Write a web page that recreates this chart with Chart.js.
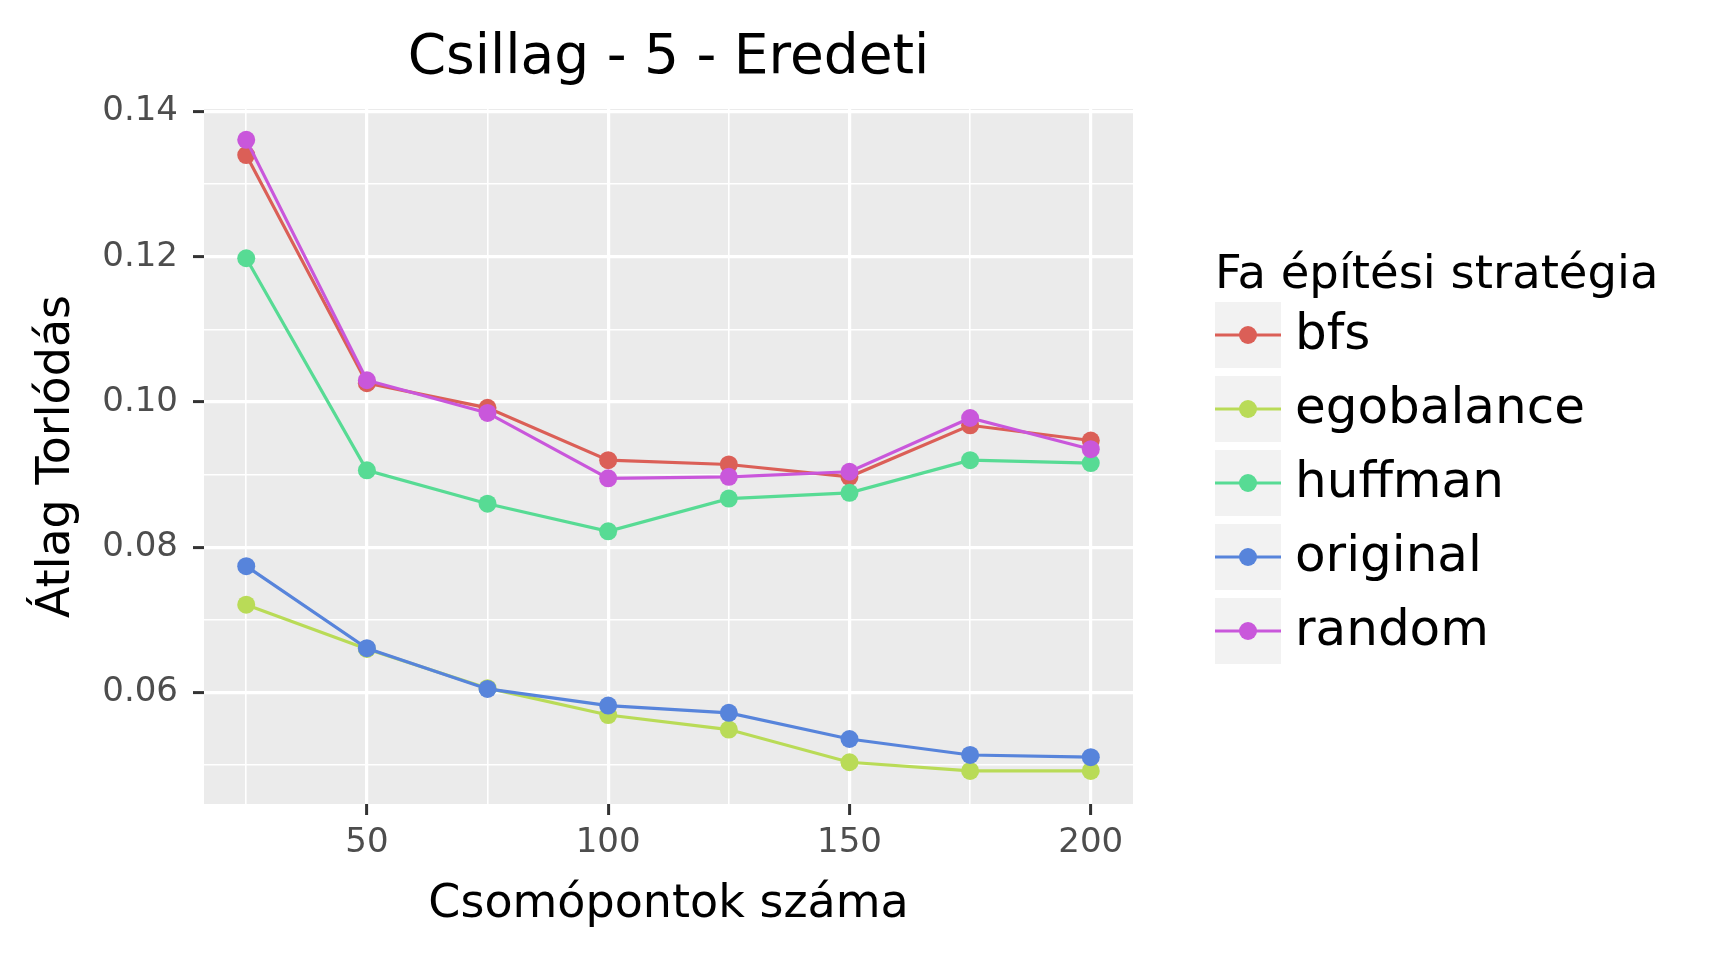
<!DOCTYPE html>
<html>
<head>
<meta charset="utf-8">
<script src="https://cdn.jsdelivr.net/npm/chart.js@4.4.1/dist/chart.umd.min.js"></script>
<style>
    body { margin: 0; background: #ffffff; }
    #mychart { display: block; }
</style>
</head>
<body>
<canvas id="mychart" width="1736" height="954"></canvas>
<script>
// data
const nodes = [25, 50, 75, 100, 125, 150, 175, 200];
const seriesNames = ['bfs', 'egobalance', 'huffman', 'original', 'random'];
const bfs = [0.1340, 0.1026, 0.0992, 0.0920, 0.0914, 0.0897, 0.0968, 0.0947];
const egobalance = [0.0721, 0.0660, 0.0606, 0.0569, 0.0549, 0.0504, 0.0492, 0.0492];
const huffman = [0.1198, 0.0906, 0.0860, 0.0822, 0.0867, 0.0875, 0.0920, 0.0916];
const original = [0.0774, 0.0661, 0.0605, 0.0582, 0.0572, 0.0536, 0.0514, 0.0511];
const random = [0.1361, 0.1030, 0.0985, 0.0895, 0.0897, 0.0904, 0.0978, 0.0935];
const seriesColors = ['#db5f57', '#b9db57', '#57db94', '#5784db', '#c957db'];

const xTicks = [25, 50, 75, 100, 125, 150, 175, 200];
const xMajor = [50, 100, 150, 200];
const yTicks = [0.05, 0.06, 0.07, 0.08, 0.09, 0.10, 0.11, 0.12, 0.13, 0.14];
const yMajor = [0.06, 0.08, 0.10, 0.12, 0.14];

Chart.defaults.font.family = "'DejaVu Sans', sans-serif";

function isMajor(list, v) {
    return list.some(function (m) { return Math.abs(m - v) < 1e-9; });
}

// grey panel behind the grid
const panelBg = {
    id: 'panelBg',
    beforeDraw(chart) {
        const a = chart.chartArea;
        const c = chart.ctx;
        c.save();
        c.fillStyle = '#ebebeb';
        c.fillRect(a.left, a.top, a.right - a.left, a.bottom - a.top);
        c.restore();
    }
};

// ggplot style legend with grey key boxes
const sideLegend = {
    id: 'sideLegend',
    afterDraw(chart) {
        const c = chart.ctx;
        const left = 1215;
        const boxSize = 66;
        const firstTop = 302;
        const step = 74;
        c.save();
        c.fillStyle = '#000000';
        c.font = "46.5px 'DejaVu Sans'";
        c.textAlign = 'left';
        c.textBaseline = 'alphabetic';
        c.fillText('Fa építési stratégia', left, 288);
        for (let i in seriesNames) {
            let top = firstTop + i * step;
            let cy = top + boxSize / 2;
            c.fillStyle = '#f2f2f2';
            c.fillRect(left, top, boxSize, boxSize);
            c.strokeStyle = seriesColors[i];
            c.lineWidth = 3.2;
            c.beginPath();
            c.moveTo(left, cy);
            c.lineTo(left + boxSize, cy);
            c.stroke();
            c.fillStyle = seriesColors[i];
            c.beginPath();
            c.arc(left + boxSize / 2, cy, 9, 0, Math.PI * 2);
            c.fill();
            c.fillStyle = '#000000';
            c.font = "50px 'DejaVu Sans'";
            c.fillText(seriesNames[i], 1295, cy + 14);
        }
        c.restore();
    }
};

function makeSet(i, values) {
    return {
        label: seriesNames[i],
        data: nodes.map(function (x, k) { return { x: x, y: values[k] }; }),
        borderColor: seriesColors[i],
        backgroundColor: seriesColors[i],
        pointBackgroundColor: seriesColors[i],
        pointBorderWidth: 0,
        pointRadius: 9,
        pointHoverRadius: 9,
        borderWidth: 3.2,
        tension: 0,
        order: seriesNames.length - i
    };
}

let chartdata = {
    datasets: [
        makeSet(0, bfs),
        makeSet(1, egobalance),
        makeSet(2, huffman),
        makeSet(3, original),
        makeSet(4, random)
    ]
};

let ctx = document.getElementById('mychart');
let lineChart = new Chart(ctx, {
    type: 'line',
    data: chartdata,
    plugins: [panelBg, sideLegend],
    options: {
        responsive: false,
        animation: false,
        devicePixelRatio: 1,
        layout: {
            padding: { left: 0, right: 603, top: 0, bottom: 0 }
        },
        plugins: {
            legend: { display: false },
            tooltip: { enabled: false },
            title: {
                display: true,
                text: 'Csillag - 5 - Eredeti',
                color: '#000000',
                fullSize: false,
                font: { size: 55, weight: 'normal' },
                padding: { top: 26, bottom: 17 }
            }
        },
        scales: {
            x: {
                type: 'linear',
                min: 16.25,
                max: 208.75,
                afterBuildTicks: function (scale) {
                    scale.ticks = xTicks.map(function (v) { return { value: v }; });
                },
                afterFit: function (scale) {
                    scale.height = 150;
                },
                border: { display: false },
                grid: {
                    color: '#ffffff',
                    lineWidth: function (c) { return isMajor(xMajor, c.tick.value) ? 3.2 : 1.6; },
                    drawTicks: true,
                    tickLength: 11,
                    tickWidth: 3,
                    tickColor: function (c) { return isMajor(xMajor, c.tick.value) ? '#333333' : 'rgba(0,0,0,0)'; }
                },
                ticks: {
                    autoSkip: false,
                    maxRotation: 0,
                    padding: 8,
                    color: '#4d4d4d',
                    font: { size: 34 },
                    callback: function (value) {
                        return isMajor(xMajor, value) ? String(value) : '';
                    }
                },
                title: {
                    display: true,
                    text: 'Csomópontok száma',
                    color: '#000000',
                    font: { size: 46 },
                    padding: { top: 0, bottom: 21 }
                }
            },
            y: {
                type: 'linear',
                min: 0.04465,
                max: 0.14035,
                afterBuildTicks: function (scale) {
                    scale.ticks = yTicks.map(function (v) { return { value: v }; });
                },
                afterFit: function (scale) {
                    scale.width = 204;
                },
                border: { display: false },
                grid: {
                    color: '#ffffff',
                    lineWidth: function (c) { return isMajor(yMajor, c.tick.value) ? 3.2 : 1.6; },
                    drawTicks: true,
                    tickLength: 11,
                    tickWidth: 3,
                    tickColor: function (c) { return isMajor(yMajor, c.tick.value) ? '#333333' : 'rgba(0,0,0,0)'; }
                },
                ticks: {
                    autoSkip: false,
                    padding: 15,
                    color: '#4d4d4d',
                    font: { size: 34 },
                    callback: function (value) {
                        return isMajor(yMajor, value) ? value.toFixed(2) : '';
                    }
                },
                title: {
                    display: true,
                    text: 'Átlag Torlódás',
                    color: '#000000',
                    font: { size: 46 },
                    padding: { top: 29, bottom: 0 }
                }
            }
        }
    }
});
</script>
</body>
</html>
